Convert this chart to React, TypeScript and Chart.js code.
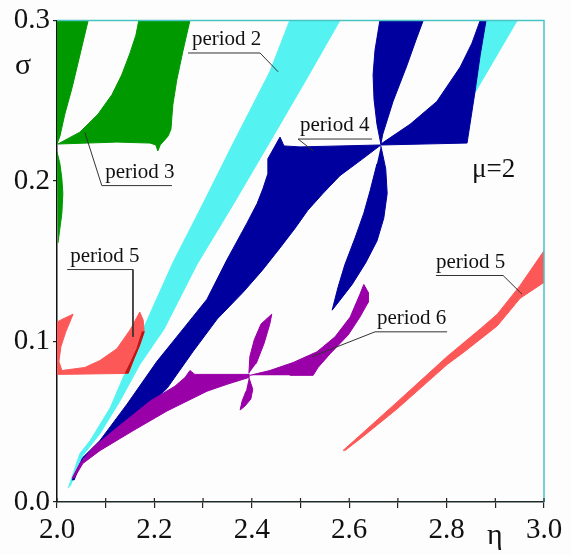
import React, { useEffect, useRef } from 'react';
import { Chart, registerables } from 'chart.js';
Chart.register(...registerables);

type P = [number, number];

// axis ticks
const xTickValues = [2.0, 2.2, 2.4, 2.6, 2.8, 3.0];
const xTickLabels = ['2.0', '2.2', '2.4', '2.6', '2.8', '3.0'];
const yTickValues = [0.0, 0.1, 0.2, 0.3];
const yTickLabels = ['0.0', '0.1', '0.2', '0.3'];

// period 3 (green)
const period3Left: P[] = [[2.000,0.300],[2.064,0.300],[2.047,0.2784],[2.031,0.2581],[2.016,0.2415],[2.006,0.2279],[2.000,0.2230]];
const period3Main: P[] = [[2.002,0.2230],[2.047,0.2304],[2.084,0.2415],[2.113,0.2538],[2.133,0.2661],[2.150,0.2797],[2.162,0.2908],[2.168,0.3000],[2.273,0.3000],[2.259,0.2815],[2.246,0.2630],[2.238,0.2476],[2.236,0.2402],[2.234,0.2322],[2.228,0.2279],[2.212,0.2224],[2.207,0.2187],[2.203,0.2224],[2.191,0.2236],[2.123,0.2242],[2.002,0.2230]];
const period3Sliver: P[] = [[2.000,0.2181],[2.006,0.2107],[2.010,0.2014],[2.012,0.1922],[2.010,0.1799],[2.006,0.1706],[2.002,0.1614],[2.000,0.1614]];

// period 2 (cyan)
const period2Main: P[] = [[2.023,0.0086],[2.047,0.0302],[2.068,0.0382],[2.109,0.0585],[2.150,0.0875],[2.177,0.1078],[2.238,0.1491],[2.300,0.1860],[2.361,0.2230],[2.437,0.2680],[2.478,0.3000],[2.581,0.3000],[2.515,0.2649],[2.450,0.2310],[2.363,0.1860],[2.287,0.1478],[2.220,0.1078],[2.170,0.0856],[2.129,0.0628],[2.088,0.0425],[2.053,0.0290],[2.027,0.0099]];
const period2Upper: P[] = [[2.869,0.3000],[2.945,0.3000],[2.856,0.2538],[2.852,0.2538]];

// period 4 (blue)
const period4Lower: P[] = [[2.031,0.0136],[2.053,0.0277],[2.088,0.0382],[2.144,0.0610],[2.205,0.0875],[2.259,0.1078],[2.308,0.1263],[2.349,0.1509],[2.390,0.1737],[2.411,0.1860],[2.423,0.1953],[2.433,0.2045],[2.433,0.2138],[2.450,0.2230],[2.458,0.2273],[2.466,0.2218],[2.499,0.2212],[2.665,0.2224],[2.622,0.2125],[2.581,0.2033],[2.546,0.1922],[2.515,0.1817],[2.489,0.1706],[2.458,0.1583],[2.421,0.1441],[2.382,0.1306],[2.329,0.1140],[2.279,0.0936],[2.226,0.0708],[2.156,0.0505],[2.088,0.0339],[2.053,0.0271],[2.035,0.0136]];
const period4Top: P[] = [[2.663,0.3000],[2.653,0.2815],[2.649,0.2661],[2.651,0.2507],[2.657,0.2353],[2.665,0.2230],[2.669,0.2292],[2.690,0.2495],[2.719,0.2723],[2.737,0.2877],[2.752,0.3000]];
const period4Right: P[] = [[2.665,0.2230],[2.725,0.2353],[2.780,0.2495],[2.828,0.2710],[2.852,0.2858],[2.869,0.3000],[2.881,0.3000],[2.869,0.2784],[2.858,0.2550],[2.848,0.2353],[2.842,0.2236],[2.665,0.2224]];
const period4Bottom: P[] = [[2.665,0.2218],[2.675,0.2076],[2.678,0.1922],[2.671,0.1768],[2.657,0.1626],[2.634,0.1491],[2.606,0.1355],[2.581,0.1257],[2.565,0.1195],[2.577,0.1337],[2.591,0.1478],[2.612,0.1645],[2.630,0.1799],[2.643,0.1940],[2.657,0.2107]];

// period 6 (purple)
const period6Left: P[] = [[2.031,0.0148],[2.047,0.0240],[2.074,0.0339],[2.123,0.0462],[2.191,0.0628],[2.242,0.0721],[2.263,0.0776],[2.273,0.0819],[2.283,0.0795],[2.394,0.0795],[2.394,0.0776],[2.349,0.0733],[2.308,0.0690],[2.226,0.0567],[2.156,0.0444],[2.088,0.0320],[2.053,0.0240],[2.035,0.0148]];
const period6Up: P[] = [[2.394,0.0801],[2.396,0.0906],[2.405,0.1010],[2.419,0.1109],[2.441,0.1170],[2.437,0.1109],[2.425,0.0986],[2.409,0.0862]];
const period6Down: P[] = [[2.394,0.0776],[2.402,0.0702],[2.398,0.0641],[2.386,0.0598],[2.376,0.0573],[2.380,0.0628],[2.388,0.0690]];
const period6Right: P[] = [[2.396,0.0789],[2.437,0.0819],[2.485,0.0869],[2.534,0.0936],[2.571,0.1029],[2.602,0.1152],[2.622,0.1294],[2.630,0.1355],[2.639,0.1306],[2.639,0.1244],[2.622,0.1152],[2.598,0.1041],[2.561,0.0924],[2.536,0.0838],[2.526,0.0789],[2.478,0.0789]];

// period 5 (red)
const period5Left: P[] = [[2.000,0.1121],[2.012,0.1140],[2.033,0.1170],[2.018,0.1060],[2.008,0.0967],[2.004,0.0875],[2.010,0.0819],[2.057,0.0838],[2.088,0.0881],[2.123,0.0955],[2.150,0.1072],[2.170,0.1183],[2.177,0.1133],[2.179,0.1060],[2.170,0.0979],[2.158,0.0893],[2.146,0.0801],[2.000,0.0795]];
const period5Overlap: P[] = [[2.140,0.0801],[2.152,0.0875],[2.164,0.0955],[2.175,0.1060],[2.179,0.1060],[2.170,0.0979],[2.158,0.0893],[2.146,0.0801]];
const period5Right: P[] = [[2.587,0.0320],[2.628,0.0431],[2.698,0.0622],[2.801,0.0906],[2.869,0.1078],[2.904,0.1170],[2.951,0.1349],[3.000,0.1565],[3.000,0.1368],[2.951,0.1269],[2.904,0.1097],[2.834,0.0930],[2.801,0.0856],[2.698,0.0579],[2.628,0.0407],[2.591,0.0320]];

// annotation leader lines
const leaderLines: P[][] = [
  [[2.269,0.2797],[2.417,0.2797],[2.454,0.2680]],
  [[2.236,0.1971],[2.092,0.1971],[2.057,0.2304]],
  [[2.021,0.1448],[2.156,0.1448],[2.156,0.1029]],
  [[2.647,0.2261],[2.495,0.2261],[2.526,0.2187]],
  [[2.801,0.1060],[2.653,0.1060],[2.524,0.0906]],
  [[2.778,0.1411],[2.916,0.1411],[2.955,0.1294]],
];
const labelTexts = ['period 2', 'period 3', 'period 5', 'period 4', 'period 6', 'period 5', 'μ=2'];
const labelEta = [2.277, 2.099, 2.027, 2.499, 2.657, 2.778, 2.852];
const labelSigma = [0.2846, 0.2021, 0.1497, 0.2310, 0.1109, 0.1460, 0.2027];

const GREEN = '#009900';
const CYAN = '#55f2f2';
const BLUE = '#00009e';
const PURPLE = '#9a00a8';
const RED = '#fd5858';
const DARKRED = '#c01515';
const SERIF = '"Liberation Serif", "Times New Roman", serif';

const poly = (pts: P[], color: string, order: number) => ({
  type: 'line',
  data: pts.map(([x, y]) => ({ x, y })),
  borderColor: color,
  backgroundColor: color,
  borderWidth: 1,
  pointRadius: 0,
  fill: 'shape',
  tension: 0,
  order,
});

const findLabel = (v: number, vals: number[], labels: string[]) => {
  const i = vals.findIndex((t) => Math.abs(t - v) < 1e-6);
  return i >= 0 ? labels[i] : '';
};

const decorPlugin = {
  id: 'decor',
  beforeDraw(chart: any) {
    const { ctx, width, height } = chart;
    ctx.save();
    ctx.fillStyle = '#fdfdfd';
    ctx.fillRect(0, 0, width, height);
    ctx.restore();
  },
  afterDraw(chart: any) {
    const { ctx, chartArea: a, scales } = chart;
    const xs = scales.x;
    const ys = scales.y;
    ctx.save();
    ctx.strokeStyle = '#48c4c4';
    ctx.lineWidth = 1.5;
    ctx.beginPath();
    ctx.moveTo(a.left, a.top);
    ctx.lineTo(a.right, a.top);
    ctx.lineTo(a.right, a.bottom);
    ctx.stroke();
    ctx.strokeStyle = '#222';
    ctx.lineWidth = 1.2;
    xs.ticks.forEach((t: any) => {
      const px = xs.getPixelForValue(t.value);
      ctx.beginPath();
      ctx.moveTo(px, a.bottom);
      ctx.lineTo(px, a.bottom - 4);
      ctx.stroke();
    });
    ctx.fillStyle = '#111';
    ctx.textBaseline = 'alphabetic';
    ctx.textAlign = 'left';
    labelTexts.forEach((t, i) => {
      ctx.font = (t.startsWith('μ') ? '27px ' : '21px ') + SERIF;
      ctx.fillText(t, xs.getPixelForValue(labelEta[i]), ys.getPixelForValue(labelSigma[i]));
    });
    ctx.font = '30px ' + SERIF;
    ctx.fillText('σ', a.left - 42, a.top + 54);
    ctx.fillText('η', a.right - 57, a.bottom + 42);
    ctx.restore();
  },
};

export default function App() {
  const ref = useRef<HTMLCanvasElement | null>(null);
  useEffect(() => {
    document.body.style.margin = '0';
    if (!ref.current) return;
    const datasets: any[] = [
      poly(period2Main, CYAN, 9),
      poly(period2Upper, CYAN, 9),
      poly(period4Lower, BLUE, 7),
      poly(period4Top, BLUE, 7),
      poly(period4Right, BLUE, 7),
      poly(period4Bottom, BLUE, 7),
      poly(period3Left, GREEN, 6),
      poly(period3Main, GREEN, 6),
      poly(period3Sliver, GREEN, 6),
      poly(period6Left, PURPLE, 5),
      poly(period6Up, PURPLE, 5),
      poly(period6Down, PURPLE, 5),
      poly(period6Right, PURPLE, 5),
      poly(period5Left, RED, 4),
      poly(period5Overlap, DARKRED, 3),
      poly(period5Right, RED, 4),
      ...leaderLines.map((l) => ({
        type: 'line',
        data: l.map(([x, y]) => ({ x, y })),
        borderColor: '#333',
        borderWidth: 1,
        pointRadius: 0,
        fill: false,
        tension: 0,
        order: 0,
      })),
    ];
    const chart = new Chart(ref.current, {
      type: 'line',
      data: { datasets },
      options: {
        animation: false,
        responsive: false,
        events: [],
        layout: { padding: { top: 15, right: 27, left: 0, bottom: 0 } },
        plugins: { legend: { display: false }, tooltip: { enabled: false } },
        scales: {
          x: {
            type: 'linear',
            min: 2,
            max: 3,
            z: 1,
            afterFit: (s: any) => { s.height = 53; },
            border: { display: true, color: '#1e2a2a', width: 1.5 },
            grid: { drawOnChartArea: false, drawTicks: true, tickLength: 6, color: '#222', lineWidth: 1.2 },
            ticks: {
              stepSize: 0.1,
              autoSkip: false,
              maxRotation: 0,
              padding: 5,
              color: '#111',
              font: { family: SERIF, size: 29 },
              callback: (v: any) => findLabel(Number(v), xTickValues, xTickLabels),
            },
          },
          y: {
            type: 'linear',
            min: 0,
            max: 0.3,
            z: 1,
            afterFit: (s: any) => { s.width = 57; },
            border: { display: true, color: '#111', width: 1.5 },
            grid: { drawOnChartArea: false, drawTicks: true, tickLength: 4, color: '#222', lineWidth: 1.2 },
            ticks: {
              stepSize: 0.1,
              padding: 3,
              color: '#111',
              font: { family: SERIF, size: 29 },
              callback: (v: any) => findLabel(Number(v), yTickValues, yTickLabels),
            },
          },
        },
      } as any,
      plugins: [decorPlugin],
    } as any);
    return () => chart.destroy();
  }, []);
  return (
    <div style={{ width: 571, height: 555 }}>
      <canvas ref={ref} width={571} height={555} style={{ display: 'block' }} />
    </div>
  );
}
